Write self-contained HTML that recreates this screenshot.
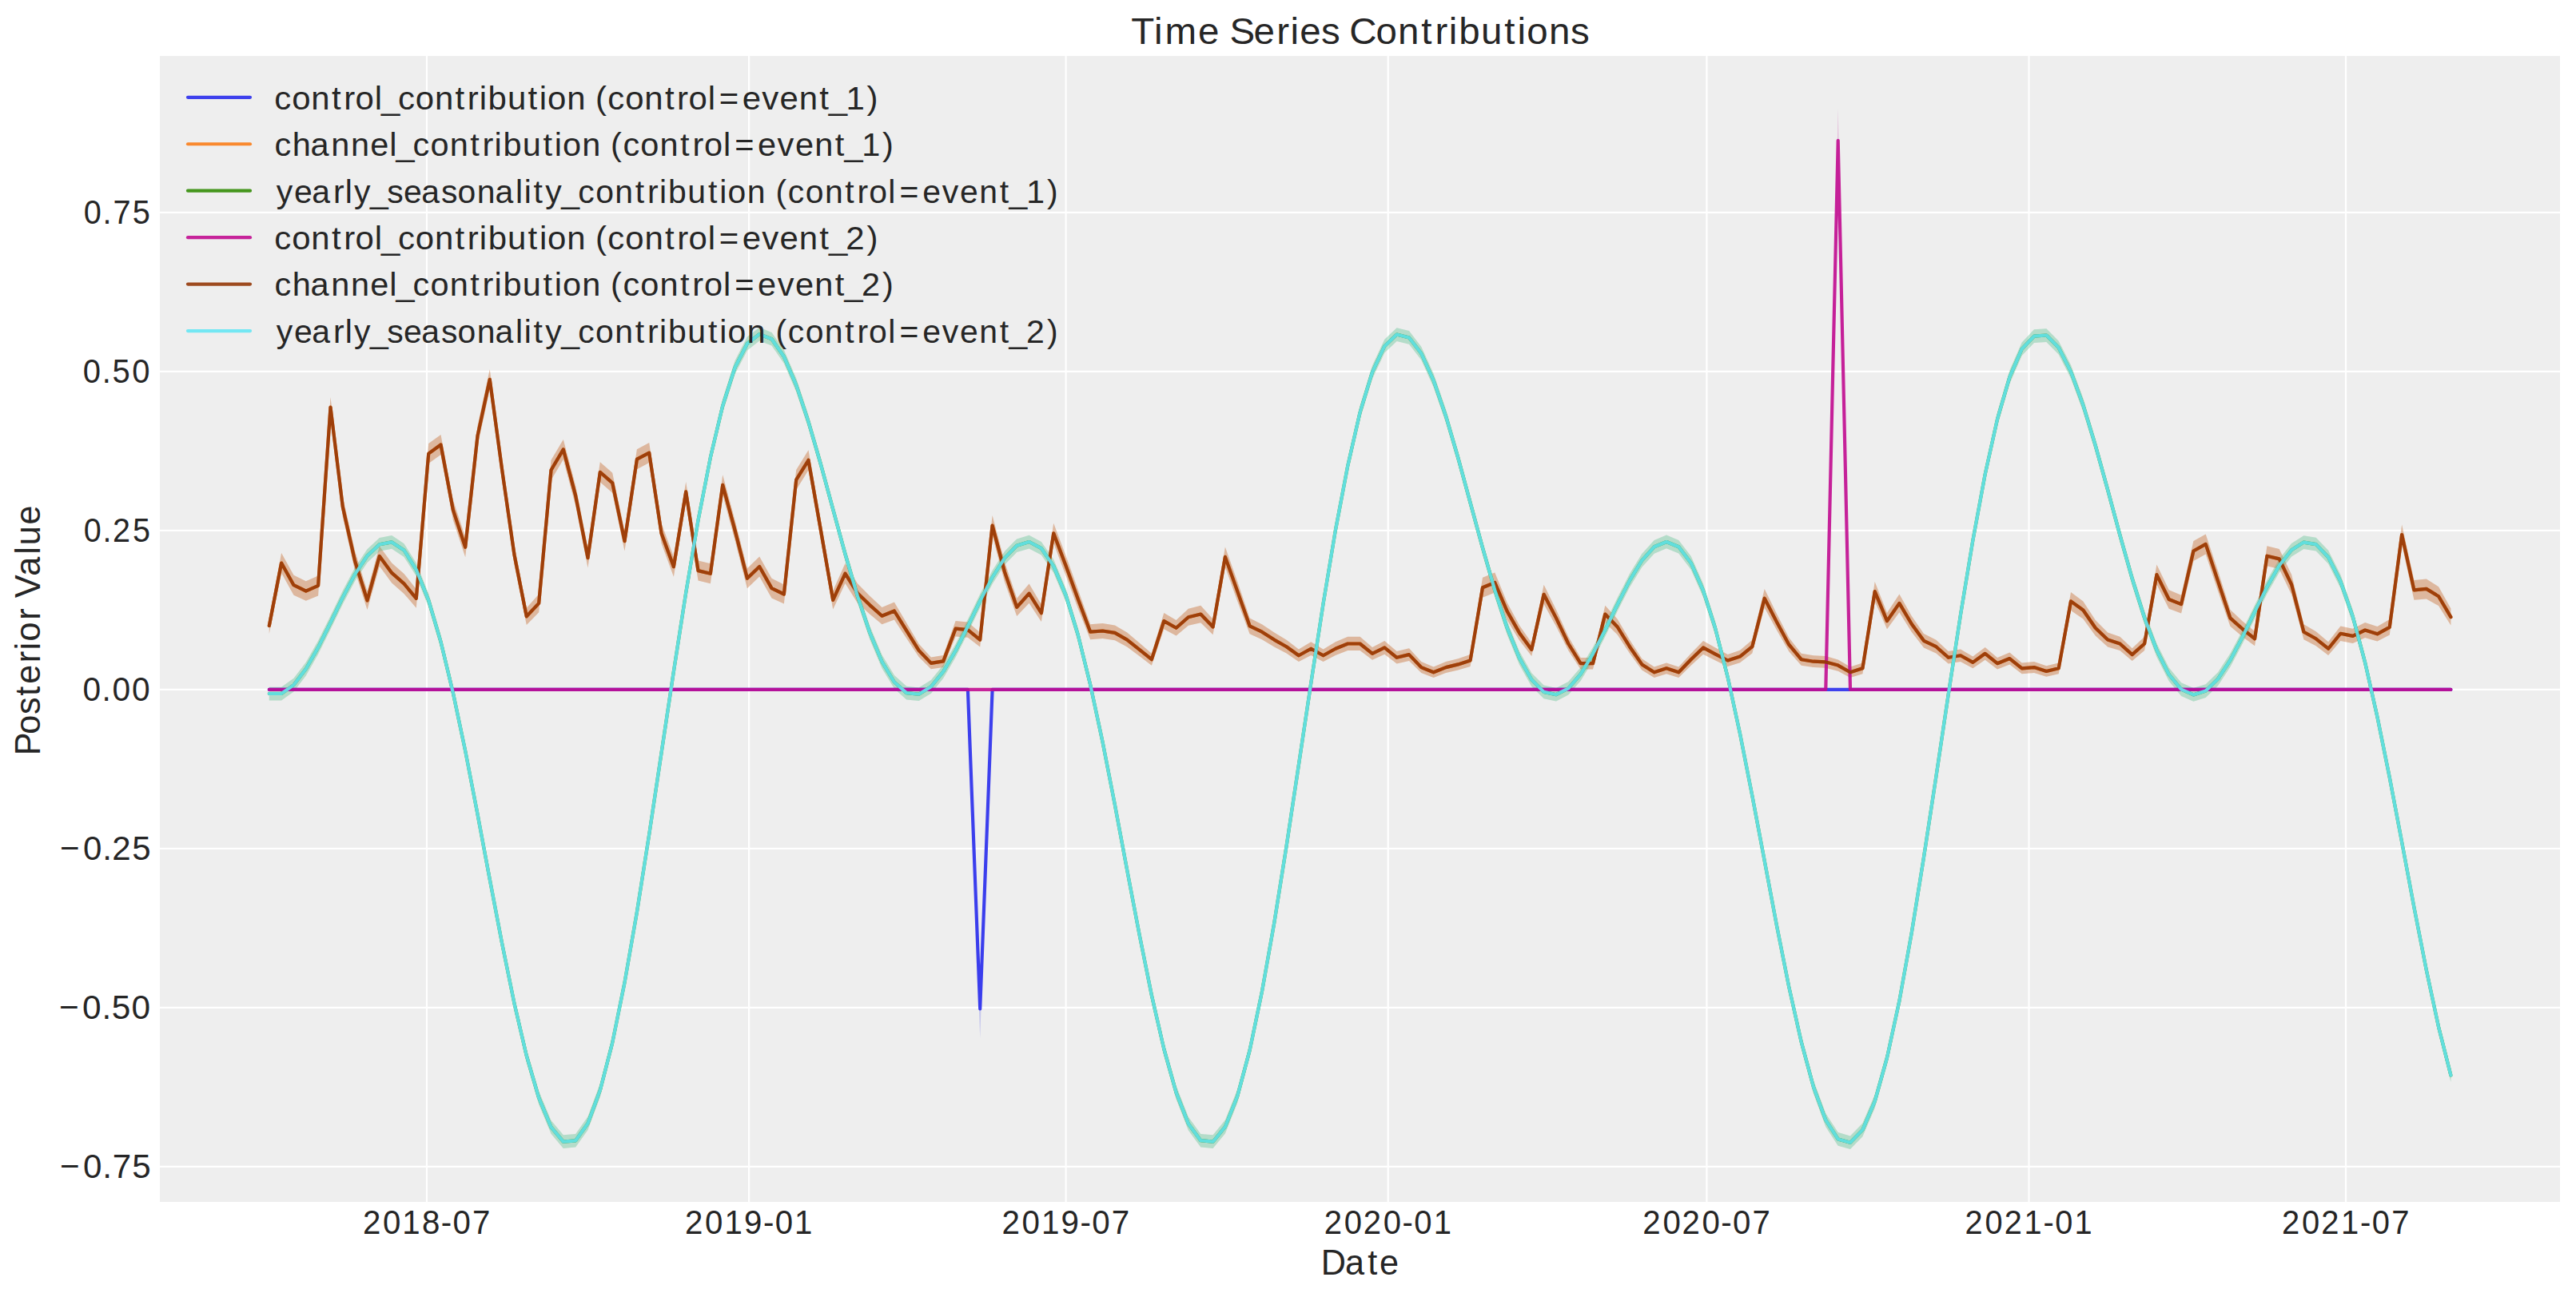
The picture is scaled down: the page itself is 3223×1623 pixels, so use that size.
<!DOCTYPE html><html><head><meta charset="utf-8"><style>html,body{margin:0;padding:0;background:#fff;}svg{display:block;}text{font-family:"Liberation Sans",sans-serif;fill:#262626;font-kerning:none;}</style></head><body>
<svg width="3223" height="1623" viewBox="0 0 3223 1623">
<rect x="0" y="0" width="3223" height="1623" fill="#ffffff"/>
<rect x="200" y="70" width="3003" height="1434" fill="#eeeeee"/>
<path d="M534.00 70V1504M937.09 70V1504M1333.61 70V1504M1736.70 70V1504M2135.41 70V1504M2538.50 70V1504M2935.02 70V1504M200 265.85H3203M200 464.85H3203M200 663.85H3203M200 862.85H3203M200 1061.85H3203M200 1260.85H3203M200 1459.85H3203" stroke="#ffffff" stroke-width="2.2" fill="none"/>
<polygon points="336.8,862.9 352.1,862.9 367.5,862.9 382.8,862.9 398.1,862.9 413.5,862.9 428.8,862.9 444.1,862.9 459.5,862.9 474.8,862.9 490.2,862.9 505.5,862.9 520.8,862.9 536.2,862.9 551.5,862.9 566.8,862.9 582.2,862.9 597.5,862.9 612.8,862.9 628.2,862.9 643.5,862.9 658.8,862.9 674.2,862.9 689.5,862.9 704.8,862.9 720.2,862.9 735.5,862.9 750.8,862.9 766.2,862.9 781.5,862.9 796.9,862.9 812.2,862.9 827.5,862.9 842.9,862.9 858.2,862.9 873.5,862.9 888.9,862.9 904.2,862.9 919.5,862.9 934.9,862.9 950.2,862.9 965.5,862.9 980.9,862.9 996.2,862.9 1011.5,862.9 1026.9,862.9 1042.2,862.9 1057.5,862.9 1072.9,862.9 1088.2,862.9 1103.5,862.9 1118.9,862.9 1134.2,862.9 1149.6,862.9 1164.9,862.9 1180.2,862.9 1195.6,862.9 1210.9,862.9 1226.2,1225.8 1241.6,862.9 1256.9,862.9 1272.2,862.9 1287.6,862.9 1302.9,862.9 1318.2,862.9 1333.6,862.9 1348.9,862.9 1364.2,862.9 1379.6,862.9 1394.9,862.9 1410.2,862.9 1425.6,862.9 1440.9,862.9 1456.3,862.9 1471.6,862.9 1486.9,862.9 1502.3,862.9 1517.6,862.9 1532.9,862.9 1548.3,862.9 1563.6,862.9 1578.9,862.9 1594.3,862.9 1609.6,862.9 1624.9,862.9 1640.3,862.9 1655.6,862.9 1670.9,862.9 1686.3,862.9 1701.6,862.9 1717.0,862.9 1732.3,862.9 1747.6,862.9 1763.0,862.9 1778.3,862.9 1793.6,862.9 1809.0,862.9 1824.3,862.9 1839.6,862.9 1855.0,862.9 1870.3,862.9 1885.6,862.9 1901.0,862.9 1916.3,862.9 1931.6,862.9 1947.0,862.9 1962.3,862.9 1977.6,862.9 1993.0,862.9 2008.3,862.9 2023.7,862.9 2039.0,862.9 2054.3,862.9 2069.7,862.9 2085.0,862.9 2100.3,862.9 2115.7,862.9 2131.0,862.9 2146.3,862.9 2161.7,862.9 2177.0,862.9 2192.3,862.9 2207.7,862.9 2223.0,862.9 2238.3,862.9 2253.7,862.9 2269.0,862.9 2284.3,862.9 2299.7,862.9 2315.0,862.9 2330.4,862.9 2345.7,862.9 2361.0,862.9 2376.4,862.9 2391.7,862.9 2407.0,862.9 2422.4,862.9 2437.7,862.9 2453.0,862.9 2468.4,862.9 2483.7,862.9 2499.0,862.9 2514.4,862.9 2529.7,862.9 2545.0,862.9 2560.4,862.9 2575.7,862.9 2591.0,862.9 2606.4,862.9 2621.7,862.9 2637.1,862.9 2652.4,862.9 2667.7,862.9 2683.1,862.9 2698.4,862.9 2713.7,862.9 2729.1,862.9 2744.4,862.9 2759.7,862.9 2775.1,862.9 2790.4,862.9 2805.7,862.9 2821.1,862.9 2836.4,862.9 2851.7,862.9 2867.1,862.9 2882.4,862.9 2897.7,862.9 2913.1,862.9 2928.4,862.9 2943.8,862.9 2959.1,862.9 2974.4,862.9 2989.8,862.9 3005.1,862.9 3020.4,862.9 3035.8,862.9 3051.1,862.9 3066.4,862.9 3066.4,862.9 3051.1,862.9 3035.8,862.9 3020.4,862.9 3005.1,862.9 2989.8,862.9 2974.4,862.9 2959.1,862.9 2943.8,862.9 2928.4,862.9 2913.1,862.9 2897.7,862.9 2882.4,862.9 2867.1,862.9 2851.7,862.9 2836.4,862.9 2821.1,862.9 2805.7,862.9 2790.4,862.9 2775.1,862.9 2759.7,862.9 2744.4,862.9 2729.1,862.9 2713.7,862.9 2698.4,862.9 2683.1,862.9 2667.7,862.9 2652.4,862.9 2637.1,862.9 2621.7,862.9 2606.4,862.9 2591.0,862.9 2575.7,862.9 2560.4,862.9 2545.0,862.9 2529.7,862.9 2514.4,862.9 2499.0,862.9 2483.7,862.9 2468.4,862.9 2453.0,862.9 2437.7,862.9 2422.4,862.9 2407.0,862.9 2391.7,862.9 2376.4,862.9 2361.0,862.9 2345.7,862.9 2330.4,862.9 2315.0,862.9 2299.7,862.9 2284.3,862.9 2269.0,862.9 2253.7,862.9 2238.3,862.9 2223.0,862.9 2207.7,862.9 2192.3,862.9 2177.0,862.9 2161.7,862.9 2146.3,862.9 2131.0,862.9 2115.7,862.9 2100.3,862.9 2085.0,862.9 2069.7,862.9 2054.3,862.9 2039.0,862.9 2023.7,862.9 2008.3,862.9 1993.0,862.9 1977.6,862.9 1962.3,862.9 1947.0,862.9 1931.6,862.9 1916.3,862.9 1901.0,862.9 1885.6,862.9 1870.3,862.9 1855.0,862.9 1839.6,862.9 1824.3,862.9 1809.0,862.9 1793.6,862.9 1778.3,862.9 1763.0,862.9 1747.6,862.9 1732.3,862.9 1717.0,862.9 1701.6,862.9 1686.3,862.9 1670.9,862.9 1655.6,862.9 1640.3,862.9 1624.9,862.9 1609.6,862.9 1594.3,862.9 1578.9,862.9 1563.6,862.9 1548.3,862.9 1532.9,862.9 1517.6,862.9 1502.3,862.9 1486.9,862.9 1471.6,862.9 1456.3,862.9 1440.9,862.9 1425.6,862.9 1410.2,862.9 1394.9,862.9 1379.6,862.9 1364.2,862.9 1348.9,862.9 1333.6,862.9 1318.2,862.9 1302.9,862.9 1287.6,862.9 1272.2,862.9 1256.9,862.9 1241.6,862.9 1226.2,1299.1 1210.9,862.9 1195.6,862.9 1180.2,862.9 1164.9,862.9 1149.6,862.9 1134.2,862.9 1118.9,862.9 1103.5,862.9 1088.2,862.9 1072.9,862.9 1057.5,862.9 1042.2,862.9 1026.9,862.9 1011.5,862.9 996.2,862.9 980.9,862.9 965.5,862.9 950.2,862.9 934.9,862.9 919.5,862.9 904.2,862.9 888.9,862.9 873.5,862.9 858.2,862.9 842.9,862.9 827.5,862.9 812.2,862.9 796.9,862.9 781.5,862.9 766.2,862.9 750.8,862.9 735.5,862.9 720.2,862.9 704.8,862.9 689.5,862.9 674.2,862.9 658.8,862.9 643.5,862.9 628.2,862.9 612.8,862.9 597.5,862.9 582.2,862.9 566.8,862.9 551.5,862.9 536.2,862.9 520.8,862.9 505.5,862.9 490.2,862.9 474.8,862.9 459.5,862.9 444.1,862.9 428.8,862.9 413.5,862.9 398.1,862.9 382.8,862.9 367.5,862.9 352.1,862.9 336.8,862.9" fill="#2a2eec" fill-opacity="0.2" stroke="none"/>
<polygon points="336.8,773.1 352.1,692.0 367.5,719.7 382.8,727.3 398.1,720.4 413.5,497.1 428.8,621.7 444.1,689.6 459.5,739.8 474.8,683.4 490.2,704.4 505.5,717.9 520.8,737.2 536.2,555.1 551.5,544.0 566.8,625.4 582.2,672.3 597.5,532.9 612.8,462.3 628.2,575.8 643.5,681.9 658.8,760.8 674.2,743.4 689.5,575.8 704.8,549.9 720.2,607.9 735.5,685.6 750.8,578.3 766.2,591.8 781.5,664.6 796.9,562.2 812.2,554.1 827.5,654.7 842.9,696.7 858.2,602.9 873.5,701.6 888.9,705.3 904.2,594.3 919.5,650.9 934.9,711.3 950.2,696.5 965.5,723.7 980.9,731.5 996.2,587.9 1011.5,563.3 1026.9,650.9 1042.2,739.3 1057.5,705.1 1072.9,730.2 1088.2,745.8 1103.5,760.1 1118.9,753.6 1134.2,779.6 1149.6,805.7 1164.9,822.6 1180.2,820.0 1195.6,777.0 1210.9,778.6 1226.2,791.6 1241.6,645.0 1256.9,702.9 1272.2,748.7 1287.6,730.5 1302.9,756.5 1318.2,654.8 1333.6,695.5 1348.9,738.3 1364.2,781.2 1379.6,779.9 1394.9,782.5 1410.2,791.6 1425.6,804.6 1440.9,817.7 1456.3,766.9 1471.6,776.0 1486.9,761.7 1502.3,757.8 1517.6,774.7 1532.9,684.4 1548.3,727.9 1563.6,773.4 1578.9,781.2 1594.3,791.6 1609.6,800.7 1624.9,812.5 1640.3,803.3 1655.6,812.5 1670.9,803.3 1686.3,796.8 1701.6,796.8 1717.0,809.9 1732.3,802.0 1747.6,815.1 1763.0,811.2 1778.3,828.1 1793.6,834.6 1809.0,828.1 1824.3,824.2 1839.6,819.0 1855.0,722.7 1870.3,716.5 1885.6,753.9 1901.0,782.5 1916.3,804.6 1931.6,731.8 1947.0,763.0 1962.3,796.8 1977.6,822.9 1993.0,822.9 2008.3,757.8 2023.7,774.7 2039.0,800.7 2054.3,824.2 2069.7,834.6 2085.0,829.4 2100.3,834.6 2115.7,817.7 2131.0,802.0 2146.3,810.6 2161.7,819.0 2177.0,813.8 2192.3,800.7 2207.7,737.0 2223.0,768.2 2238.3,798.1 2253.7,817.7 2269.0,820.3 2284.3,821.0 2299.7,825.5 2315.0,834.6 2330.4,829.4 2345.7,727.9 2361.0,766.9 2376.4,743.5 2391.7,770.8 2407.0,792.9 2422.4,800.7 2437.7,815.1 2453.0,812.5 2468.4,821.6 2483.7,809.9 2499.0,822.9 2514.4,816.4 2529.7,829.4 2545.0,828.1 2560.4,833.3 2575.7,829.4 2591.0,740.9 2606.4,752.6 2621.7,776.0 2637.1,791.6 2652.4,796.8 2667.7,811.2 2683.1,796.8 2698.4,706.6 2713.7,738.3 2729.1,744.8 2744.4,677.0 2759.7,668.4 2775.1,714.8 2790.4,763.0 2805.7,777.3 2821.1,790.3 2836.4,683.2 2851.7,686.9 2867.1,719.0 2882.4,781.2 2897.7,790.3 2913.1,803.3 2928.4,783.4 2943.8,786.7 2959.1,778.9 2974.4,783.9 2989.8,775.0 3005.1,656.5 3020.4,726.0 3035.8,724.5 3051.1,734.3 3066.4,761.6 3066.4,782.6 3051.1,758.1 3035.8,749.4 3020.4,750.7 3005.1,681.5 2989.8,794.6 2974.4,802.6 2959.1,798.1 2943.8,805.1 2928.4,802.1 2913.1,820.0 2897.7,808.3 2882.4,800.2 2867.1,744.0 2851.7,711.9 2836.4,708.2 2821.1,808.3 2805.7,796.7 2790.4,783.8 2775.1,739.8 2759.7,693.4 2744.4,702.0 2729.1,767.5 2713.7,761.7 2698.4,731.6 2683.1,814.1 2667.7,827.0 2652.4,814.1 2637.1,809.5 2621.7,795.5 2606.4,774.5 2591.0,764.0 2575.7,843.3 2560.4,846.8 2545.0,842.1 2529.7,843.3 2514.4,831.6 2499.0,837.5 2483.7,825.8 2468.4,836.3 2453.0,828.1 2437.7,830.5 2422.4,817.6 2407.0,810.6 2391.7,790.8 2376.4,766.3 2361.0,787.3 2345.7,752.4 2330.4,843.3 2315.0,848.0 2299.7,839.8 2284.3,835.8 2269.0,835.1 2253.7,832.8 2238.3,815.3 2223.0,788.5 2207.7,760.5 2192.3,817.6 2177.0,829.3 2161.7,834.0 2146.3,826.5 2131.0,818.8 2115.7,832.8 2100.3,848.0 2085.0,843.3 2069.7,848.0 2054.3,838.6 2039.0,817.6 2023.7,794.3 2008.3,779.2 1993.0,837.5 1977.6,837.5 1962.3,814.1 1947.0,783.8 1931.6,755.9 1916.3,821.1 1901.0,801.3 1885.6,775.7 1870.3,741.5 1855.0,747.7 1839.6,834.0 1824.3,838.6 1809.0,842.1 1793.6,848.0 1778.3,842.1 1763.0,827.0 1747.6,830.5 1732.3,818.8 1717.0,825.8 1701.6,814.1 1686.3,814.1 1670.9,820.0 1655.6,828.1 1640.3,820.0 1624.9,828.1 1609.6,817.6 1594.3,809.5 1578.9,800.2 1563.6,793.2 1548.3,752.4 1532.9,709.4 1517.6,794.3 1502.3,779.2 1486.9,782.7 1471.6,795.5 1456.3,787.3 1440.9,832.8 1425.6,821.1 1410.2,809.5 1394.9,801.3 1379.6,799.0 1364.2,800.2 1348.9,761.7 1333.6,720.5 1318.2,679.8 1302.9,778.0 1287.6,754.7 1272.2,771.0 1256.9,727.9 1241.6,670.0 1226.2,809.5 1210.9,797.8 1195.6,796.4 1180.2,834.9 1164.9,837.2 1149.6,822.1 1134.2,798.7 1118.9,775.4 1103.5,781.3 1088.2,768.4 1072.9,754.4 1057.5,730.1 1042.2,762.6 1026.9,675.9 1011.5,588.3 996.2,612.9 980.9,755.6 965.5,748.6 950.2,721.5 934.9,736.3 919.5,675.9 904.2,619.3 888.9,730.3 873.5,726.6 858.2,627.9 842.9,721.7 827.5,679.7 812.2,579.1 796.9,587.2 781.5,689.6 766.2,616.8 750.8,603.3 735.5,710.6 720.2,632.9 704.8,574.9 689.5,600.8 674.2,766.3 658.8,781.9 643.5,706.9 628.2,600.8 612.8,487.3 597.5,557.9 582.2,697.3 566.8,650.4 551.5,569.0 536.2,580.1 520.8,760.7 505.5,742.9 490.2,729.4 474.8,708.4 459.5,763.0 444.1,714.6 428.8,646.7 413.5,522.1 398.1,745.4 382.8,751.8 367.5,744.7 352.1,717.0 336.8,792.9" fill="#fa7c17" fill-opacity="0.2" stroke="none"/>
<polygon points="336.8,859.7 352.1,859.7 367.5,848.8 382.8,828.7 398.1,801.7 413.5,770.8 428.8,739.2 444.1,710.3 459.5,687.2 474.8,673.0 490.2,670.0 505.5,680.2 520.8,704.4 536.2,742.8 551.5,794.7 566.8,858.3 582.2,931.3 597.5,1010.4 612.8,1092.2 628.2,1172.5 643.5,1247.4 658.8,1312.9 674.2,1365.4 689.5,1402.0 704.8,1420.3 720.2,1418.9 735.5,1397.3 750.8,1356.0 766.2,1296.5 781.5,1221.1 796.9,1133.0 812.2,1035.9 827.5,934.1 842.9,831.7 858.2,733.3 873.5,642.8 888.9,563.9 904.2,499.5 919.5,451.6 934.9,421.6 950.2,409.7 965.5,415.9 980.9,437.9 996.2,473.4 1011.5,519.4 1026.9,572.5 1042.2,628.9 1057.5,685.1 1072.9,737.5 1088.2,783.2 1103.5,819.6 1118.9,845.1 1134.2,858.7 1149.6,860.4 1164.9,851.0 1180.2,832.0 1195.6,805.9 1210.9,775.3 1226.2,743.6 1241.6,714.1 1256.9,690.0 1272.2,674.4 1287.6,669.7 1302.9,677.9 1318.2,700.1 1333.6,736.5 1348.9,786.5 1364.2,848.6 1379.6,920.4 1394.9,998.9 1410.2,1080.5 1425.6,1161.2 1440.9,1237.1 1456.3,1304.2 1471.6,1358.8 1486.9,1397.8 1502.3,1418.9 1517.6,1420.3 1532.9,1401.6 1548.3,1363.1 1563.6,1306.1 1578.9,1232.8 1594.3,1146.3 1609.6,1050.2 1624.9,948.8 1640.3,846.2 1655.6,747.0 1670.9,655.1 1686.3,574.4 1701.6,507.7 1717.0,457.4 1732.3,424.8 1747.6,410.2 1763.0,414.0 1778.3,433.9 1793.6,467.6 1809.0,512.3 1824.3,564.6 1839.6,620.8 1855.0,677.2 1870.3,730.4 1885.6,777.2 1901.0,815.0 1916.3,842.2 1931.6,857.5 1947.0,860.9 1962.3,852.9 1977.6,835.2 1993.0,809.9 2008.3,779.9 2023.7,748.1 2039.0,718.1 2054.3,693.0 2069.7,676.0 2085.0,669.6 2100.3,675.9 2115.7,696.0 2131.0,730.4 2146.3,778.6 2161.7,839.1 2177.0,909.7 2192.3,987.4 2207.7,1068.8 2223.0,1149.9 2238.3,1226.7 2253.7,1295.3 2269.0,1351.9 2284.3,1393.3 2299.7,1417.0 2315.0,1421.4 2330.4,1405.5 2345.7,1369.8 2361.0,1315.3 2376.4,1244.1 2391.7,1159.3 2407.0,1064.4 2422.4,963.4 2437.7,860.8 2453.0,760.8 2468.4,667.7 2483.7,585.1 2499.0,516.3 2514.4,463.5 2529.7,428.4 2545.0,412.3 2560.4,411.2 2575.7,426.7 2591.0,456.8 2606.4,498.6 2621.7,549.1 2637.1,604.5 2652.4,661.2 2667.7,715.7 2683.1,764.6 2698.4,805.3 2713.7,835.6 2729.1,854.3 2744.4,861.1 2759.7,856.3 2775.1,841.2 2790.4,817.8 2805.7,788.8 2821.1,757.2 2836.4,726.3 2851.7,699.5 2867.1,679.9 2882.4,670.2 2897.7,672.7 2913.1,688.8 2928.4,719.2 2943.8,763.5 2959.1,820.6 2974.4,888.6 2989.8,964.6 3005.1,1045.4 3020.4,1127.0 3035.8,1205.5 3051.1,1276.8 3066.4,1337.2 3066.4,1353.9 3051.1,1293.5 3035.8,1222.2 3020.4,1143.7 3005.1,1062.1 2989.8,981.4 2974.4,905.3 2959.1,837.4 2943.8,780.2 2928.4,735.9 2913.1,705.5 2897.7,689.4 2882.4,686.9 2867.1,696.6 2851.7,716.2 2836.4,743.0 2821.1,773.9 2805.7,805.5 2790.4,834.5 2775.1,857.9 2759.7,873.0 2744.4,877.8 2729.1,871.1 2713.7,852.3 2698.4,822.0 2683.1,781.3 2667.7,732.4 2652.4,678.0 2637.1,621.2 2621.7,565.8 2606.4,515.4 2591.0,473.5 2575.7,443.4 2560.4,427.9 2545.0,429.0 2529.7,445.1 2514.4,480.2 2499.0,533.0 2483.7,601.8 2468.4,684.4 2453.0,777.5 2437.7,877.5 2422.4,980.1 2407.0,1081.1 2391.7,1176.0 2376.4,1260.8 2361.0,1332.0 2345.7,1386.5 2330.4,1422.3 2315.0,1438.1 2299.7,1433.8 2284.3,1410.0 2269.0,1368.6 2253.7,1312.0 2238.3,1243.5 2223.0,1166.6 2207.7,1085.5 2192.3,1004.1 2177.0,926.4 2161.7,855.8 2146.3,795.3 2131.0,747.2 2115.7,712.7 2100.3,692.6 2085.0,686.3 2069.7,692.7 2054.3,709.7 2039.0,734.8 2023.7,764.8 2008.3,796.6 1993.0,826.7 1977.6,851.9 1962.3,869.6 1947.0,877.6 1931.6,874.2 1916.3,858.9 1901.0,831.8 1885.6,793.9 1870.3,747.1 1855.0,693.9 1839.6,637.5 1824.3,581.3 1809.0,529.0 1793.6,484.4 1778.3,450.6 1763.0,430.7 1747.6,426.9 1732.3,441.5 1717.0,474.1 1701.6,524.4 1686.3,591.1 1670.9,671.8 1655.6,763.7 1640.3,862.9 1624.9,965.5 1609.6,1066.9 1594.3,1163.0 1578.9,1249.5 1563.6,1322.8 1548.3,1379.8 1532.9,1418.4 1517.6,1437.1 1502.3,1435.6 1486.9,1414.6 1471.6,1375.5 1456.3,1320.9 1440.9,1253.9 1425.6,1178.0 1410.2,1097.2 1394.9,1015.6 1379.6,937.1 1364.2,865.3 1348.9,803.2 1333.6,753.2 1318.2,716.8 1302.9,694.6 1287.6,686.4 1272.2,691.1 1256.9,706.7 1241.6,730.8 1226.2,760.4 1210.9,792.1 1195.6,822.6 1180.2,848.7 1164.9,867.7 1149.6,877.1 1134.2,875.4 1118.9,861.8 1103.5,836.3 1088.2,799.9 1072.9,754.2 1057.5,701.8 1042.2,645.6 1026.9,589.2 1011.5,536.1 996.2,490.2 980.9,454.7 965.5,432.6 950.2,426.4 934.9,438.4 919.5,468.3 904.2,516.2 888.9,580.6 873.5,659.6 858.2,750.0 842.9,848.5 827.5,950.8 812.2,1052.7 796.9,1149.7 781.5,1237.8 766.2,1313.2 750.8,1372.7 735.5,1414.0 720.2,1435.6 704.8,1437.0 689.5,1418.7 674.2,1382.1 658.8,1329.6 643.5,1264.1 628.2,1189.2 612.8,1108.9 597.5,1027.2 582.2,948.0 566.8,875.0 551.5,811.4 536.2,759.6 520.8,721.1 505.5,696.9 490.2,686.8 474.8,689.7 459.5,703.9 444.1,727.0 428.8,755.9 413.5,787.5 398.1,818.4 382.8,845.4 367.5,865.5 352.1,876.4 336.8,876.4" fill="#328c06" fill-opacity="0.2" stroke="none"/>
<polygon points="336.8,862.9 352.1,862.9 367.5,862.9 382.8,862.9 398.1,862.9 413.5,862.9 428.8,862.9 444.1,862.9 459.5,862.9 474.8,862.9 490.2,862.9 505.5,862.9 520.8,862.9 536.2,862.9 551.5,862.9 566.8,862.9 582.2,862.9 597.5,862.9 612.8,862.9 628.2,862.9 643.5,862.9 658.8,862.9 674.2,862.9 689.5,862.9 704.8,862.9 720.2,862.9 735.5,862.9 750.8,862.9 766.2,862.9 781.5,862.9 796.9,862.9 812.2,862.9 827.5,862.9 842.9,862.9 858.2,862.9 873.5,862.9 888.9,862.9 904.2,862.9 919.5,862.9 934.9,862.9 950.2,862.9 965.5,862.9 980.9,862.9 996.2,862.9 1011.5,862.9 1026.9,862.9 1042.2,862.9 1057.5,862.9 1072.9,862.9 1088.2,862.9 1103.5,862.9 1118.9,862.9 1134.2,862.9 1149.6,862.9 1164.9,862.9 1180.2,862.9 1195.6,862.9 1210.9,862.9 1226.2,862.9 1241.6,862.9 1256.9,862.9 1272.2,862.9 1287.6,862.9 1302.9,862.9 1318.2,862.9 1333.6,862.9 1348.9,862.9 1364.2,862.9 1379.6,862.9 1394.9,862.9 1410.2,862.9 1425.6,862.9 1440.9,862.9 1456.3,862.9 1471.6,862.9 1486.9,862.9 1502.3,862.9 1517.6,862.9 1532.9,862.9 1548.3,862.9 1563.6,862.9 1578.9,862.9 1594.3,862.9 1609.6,862.9 1624.9,862.9 1640.3,862.9 1655.6,862.9 1670.9,862.9 1686.3,862.9 1701.6,862.9 1717.0,862.9 1732.3,862.9 1747.6,862.9 1763.0,862.9 1778.3,862.9 1793.6,862.9 1809.0,862.9 1824.3,862.9 1839.6,862.9 1855.0,862.9 1870.3,862.9 1885.6,862.9 1901.0,862.9 1916.3,862.9 1931.6,862.9 1947.0,862.9 1962.3,862.9 1977.6,862.9 1993.0,862.9 2008.3,862.9 2023.7,862.9 2039.0,862.9 2054.3,862.9 2069.7,862.9 2085.0,862.9 2100.3,862.9 2115.7,862.9 2131.0,862.9 2146.3,862.9 2161.7,862.9 2177.0,862.9 2192.3,862.9 2207.7,862.9 2223.0,862.9 2238.3,862.9 2253.7,862.9 2269.0,862.9 2284.3,862.9 2299.7,136.1 2315.0,862.9 2330.4,862.9 2345.7,862.9 2361.0,862.9 2376.4,862.9 2391.7,862.9 2407.0,862.9 2422.4,862.9 2437.7,862.9 2453.0,862.9 2468.4,862.9 2483.7,862.9 2499.0,862.9 2514.4,862.9 2529.7,862.9 2545.0,862.9 2560.4,862.9 2575.7,862.9 2591.0,862.9 2606.4,862.9 2621.7,862.9 2637.1,862.9 2652.4,862.9 2667.7,862.9 2683.1,862.9 2698.4,862.9 2713.7,862.9 2729.1,862.9 2744.4,862.9 2759.7,862.9 2775.1,862.9 2790.4,862.9 2805.7,862.9 2821.1,862.9 2836.4,862.9 2851.7,862.9 2867.1,862.9 2882.4,862.9 2897.7,862.9 2913.1,862.9 2928.4,862.9 2943.8,862.9 2959.1,862.9 2974.4,862.9 2989.8,862.9 3005.1,862.9 3020.4,862.9 3035.8,862.9 3051.1,862.9 3066.4,862.9 3066.4,862.9 3051.1,862.9 3035.8,862.9 3020.4,862.9 3005.1,862.9 2989.8,862.9 2974.4,862.9 2959.1,862.9 2943.8,862.9 2928.4,862.9 2913.1,862.9 2897.7,862.9 2882.4,862.9 2867.1,862.9 2851.7,862.9 2836.4,862.9 2821.1,862.9 2805.7,862.9 2790.4,862.9 2775.1,862.9 2759.7,862.9 2744.4,862.9 2729.1,862.9 2713.7,862.9 2698.4,862.9 2683.1,862.9 2667.7,862.9 2652.4,862.9 2637.1,862.9 2621.7,862.9 2606.4,862.9 2591.0,862.9 2575.7,862.9 2560.4,862.9 2545.0,862.9 2529.7,862.9 2514.4,862.9 2499.0,862.9 2483.7,862.9 2468.4,862.9 2453.0,862.9 2437.7,862.9 2422.4,862.9 2407.0,862.9 2391.7,862.9 2376.4,862.9 2361.0,862.9 2345.7,862.9 2330.4,862.9 2315.0,862.9 2299.7,215.7 2284.3,862.9 2269.0,862.9 2253.7,862.9 2238.3,862.9 2223.0,862.9 2207.7,862.9 2192.3,862.9 2177.0,862.9 2161.7,862.9 2146.3,862.9 2131.0,862.9 2115.7,862.9 2100.3,862.9 2085.0,862.9 2069.7,862.9 2054.3,862.9 2039.0,862.9 2023.7,862.9 2008.3,862.9 1993.0,862.9 1977.6,862.9 1962.3,862.9 1947.0,862.9 1931.6,862.9 1916.3,862.9 1901.0,862.9 1885.6,862.9 1870.3,862.9 1855.0,862.9 1839.6,862.9 1824.3,862.9 1809.0,862.9 1793.6,862.9 1778.3,862.9 1763.0,862.9 1747.6,862.9 1732.3,862.9 1717.0,862.9 1701.6,862.9 1686.3,862.9 1670.9,862.9 1655.6,862.9 1640.3,862.9 1624.9,862.9 1609.6,862.9 1594.3,862.9 1578.9,862.9 1563.6,862.9 1548.3,862.9 1532.9,862.9 1517.6,862.9 1502.3,862.9 1486.9,862.9 1471.6,862.9 1456.3,862.9 1440.9,862.9 1425.6,862.9 1410.2,862.9 1394.9,862.9 1379.6,862.9 1364.2,862.9 1348.9,862.9 1333.6,862.9 1318.2,862.9 1302.9,862.9 1287.6,862.9 1272.2,862.9 1256.9,862.9 1241.6,862.9 1226.2,862.9 1210.9,862.9 1195.6,862.9 1180.2,862.9 1164.9,862.9 1149.6,862.9 1134.2,862.9 1118.9,862.9 1103.5,862.9 1088.2,862.9 1072.9,862.9 1057.5,862.9 1042.2,862.9 1026.9,862.9 1011.5,862.9 996.2,862.9 980.9,862.9 965.5,862.9 950.2,862.9 934.9,862.9 919.5,862.9 904.2,862.9 888.9,862.9 873.5,862.9 858.2,862.9 842.9,862.9 827.5,862.9 812.2,862.9 796.9,862.9 781.5,862.9 766.2,862.9 750.8,862.9 735.5,862.9 720.2,862.9 704.8,862.9 689.5,862.9 674.2,862.9 658.8,862.9 643.5,862.9 628.2,862.9 612.8,862.9 597.5,862.9 582.2,862.9 566.8,862.9 551.5,862.9 536.2,862.9 520.8,862.9 505.5,862.9 490.2,862.9 474.8,862.9 459.5,862.9 444.1,862.9 428.8,862.9 413.5,862.9 398.1,862.9 382.8,862.9 367.5,862.9 352.1,862.9 336.8,862.9" fill="#c10c90" fill-opacity="0.2" stroke="none"/>
<polygon points="336.8,773.1 352.1,692.0 367.5,719.7 382.8,727.3 398.1,720.4 413.5,497.1 428.8,621.7 444.1,689.6 459.5,739.8 474.8,683.4 490.2,704.4 505.5,717.9 520.8,737.2 536.2,555.1 551.5,544.0 566.8,625.4 582.2,672.3 597.5,532.9 612.8,462.3 628.2,575.8 643.5,681.9 658.8,760.8 674.2,743.4 689.5,575.8 704.8,549.9 720.2,607.9 735.5,685.6 750.8,578.3 766.2,591.8 781.5,664.6 796.9,562.2 812.2,554.1 827.5,654.7 842.9,696.7 858.2,602.9 873.5,701.6 888.9,705.3 904.2,594.3 919.5,650.9 934.9,711.3 950.2,696.5 965.5,723.7 980.9,731.5 996.2,587.9 1011.5,563.3 1026.9,650.9 1042.2,739.3 1057.5,705.1 1072.9,730.2 1088.2,745.8 1103.5,760.1 1118.9,753.6 1134.2,779.6 1149.6,805.7 1164.9,822.6 1180.2,820.0 1195.6,777.0 1210.9,778.6 1226.2,791.6 1241.6,645.0 1256.9,702.9 1272.2,748.7 1287.6,730.5 1302.9,756.5 1318.2,654.8 1333.6,695.5 1348.9,738.3 1364.2,781.2 1379.6,779.9 1394.9,782.5 1410.2,791.6 1425.6,804.6 1440.9,817.7 1456.3,766.9 1471.6,776.0 1486.9,761.7 1502.3,757.8 1517.6,774.7 1532.9,684.4 1548.3,727.9 1563.6,773.4 1578.9,781.2 1594.3,791.6 1609.6,800.7 1624.9,812.5 1640.3,803.3 1655.6,812.5 1670.9,803.3 1686.3,796.8 1701.6,796.8 1717.0,809.9 1732.3,802.0 1747.6,815.1 1763.0,811.2 1778.3,828.1 1793.6,834.6 1809.0,828.1 1824.3,824.2 1839.6,819.0 1855.0,722.7 1870.3,716.5 1885.6,753.9 1901.0,782.5 1916.3,804.6 1931.6,731.8 1947.0,763.0 1962.3,796.8 1977.6,822.9 1993.0,822.9 2008.3,757.8 2023.7,774.7 2039.0,800.7 2054.3,824.2 2069.7,834.6 2085.0,829.4 2100.3,834.6 2115.7,817.7 2131.0,802.0 2146.3,810.6 2161.7,819.0 2177.0,813.8 2192.3,800.7 2207.7,737.0 2223.0,768.2 2238.3,798.1 2253.7,817.7 2269.0,820.3 2284.3,821.0 2299.7,825.5 2315.0,834.6 2330.4,829.4 2345.7,727.9 2361.0,766.9 2376.4,743.5 2391.7,770.8 2407.0,792.9 2422.4,800.7 2437.7,815.1 2453.0,812.5 2468.4,821.6 2483.7,809.9 2499.0,822.9 2514.4,816.4 2529.7,829.4 2545.0,828.1 2560.4,833.3 2575.7,829.4 2591.0,740.9 2606.4,752.6 2621.7,776.0 2637.1,791.6 2652.4,796.8 2667.7,811.2 2683.1,796.8 2698.4,706.6 2713.7,738.3 2729.1,744.8 2744.4,677.0 2759.7,668.4 2775.1,714.8 2790.4,763.0 2805.7,777.3 2821.1,790.3 2836.4,683.2 2851.7,686.9 2867.1,719.0 2882.4,781.2 2897.7,790.3 2913.1,803.3 2928.4,783.4 2943.8,786.7 2959.1,778.9 2974.4,783.9 2989.8,775.0 3005.1,656.5 3020.4,726.0 3035.8,724.5 3051.1,734.3 3066.4,761.6 3066.4,782.6 3051.1,758.1 3035.8,749.4 3020.4,750.7 3005.1,681.5 2989.8,794.6 2974.4,802.6 2959.1,798.1 2943.8,805.1 2928.4,802.1 2913.1,820.0 2897.7,808.3 2882.4,800.2 2867.1,744.0 2851.7,711.9 2836.4,708.2 2821.1,808.3 2805.7,796.7 2790.4,783.8 2775.1,739.8 2759.7,693.4 2744.4,702.0 2729.1,767.5 2713.7,761.7 2698.4,731.6 2683.1,814.1 2667.7,827.0 2652.4,814.1 2637.1,809.5 2621.7,795.5 2606.4,774.5 2591.0,764.0 2575.7,843.3 2560.4,846.8 2545.0,842.1 2529.7,843.3 2514.4,831.6 2499.0,837.5 2483.7,825.8 2468.4,836.3 2453.0,828.1 2437.7,830.5 2422.4,817.6 2407.0,810.6 2391.7,790.8 2376.4,766.3 2361.0,787.3 2345.7,752.4 2330.4,843.3 2315.0,848.0 2299.7,839.8 2284.3,835.8 2269.0,835.1 2253.7,832.8 2238.3,815.3 2223.0,788.5 2207.7,760.5 2192.3,817.6 2177.0,829.3 2161.7,834.0 2146.3,826.5 2131.0,818.8 2115.7,832.8 2100.3,848.0 2085.0,843.3 2069.7,848.0 2054.3,838.6 2039.0,817.6 2023.7,794.3 2008.3,779.2 1993.0,837.5 1977.6,837.5 1962.3,814.1 1947.0,783.8 1931.6,755.9 1916.3,821.1 1901.0,801.3 1885.6,775.7 1870.3,741.5 1855.0,747.7 1839.6,834.0 1824.3,838.6 1809.0,842.1 1793.6,848.0 1778.3,842.1 1763.0,827.0 1747.6,830.5 1732.3,818.8 1717.0,825.8 1701.6,814.1 1686.3,814.1 1670.9,820.0 1655.6,828.1 1640.3,820.0 1624.9,828.1 1609.6,817.6 1594.3,809.5 1578.9,800.2 1563.6,793.2 1548.3,752.4 1532.9,709.4 1517.6,794.3 1502.3,779.2 1486.9,782.7 1471.6,795.5 1456.3,787.3 1440.9,832.8 1425.6,821.1 1410.2,809.5 1394.9,801.3 1379.6,799.0 1364.2,800.2 1348.9,761.7 1333.6,720.5 1318.2,679.8 1302.9,778.0 1287.6,754.7 1272.2,771.0 1256.9,727.9 1241.6,670.0 1226.2,809.5 1210.9,797.8 1195.6,796.4 1180.2,834.9 1164.9,837.2 1149.6,822.1 1134.2,798.7 1118.9,775.4 1103.5,781.3 1088.2,768.4 1072.9,754.4 1057.5,730.1 1042.2,762.6 1026.9,675.9 1011.5,588.3 996.2,612.9 980.9,755.6 965.5,748.6 950.2,721.5 934.9,736.3 919.5,675.9 904.2,619.3 888.9,730.3 873.5,726.6 858.2,627.9 842.9,721.7 827.5,679.7 812.2,579.1 796.9,587.2 781.5,689.6 766.2,616.8 750.8,603.3 735.5,710.6 720.2,632.9 704.8,574.9 689.5,600.8 674.2,766.3 658.8,781.9 643.5,706.9 628.2,600.8 612.8,487.3 597.5,557.9 582.2,697.3 566.8,650.4 551.5,569.0 536.2,580.1 520.8,760.7 505.5,742.9 490.2,729.4 474.8,708.4 459.5,763.0 444.1,714.6 428.8,646.7 413.5,522.1 398.1,745.4 382.8,751.8 367.5,744.7 352.1,717.0 336.8,792.9" fill="#933708" fill-opacity="0.2" stroke="none"/>
<polygon points="336.8,859.7 352.1,859.7 367.5,848.8 382.8,828.7 398.1,801.7 413.5,770.8 428.8,739.2 444.1,710.3 459.5,687.2 474.8,673.0 490.2,670.0 505.5,680.2 520.8,704.4 536.2,742.8 551.5,794.7 566.8,858.3 582.2,931.3 597.5,1010.4 612.8,1092.2 628.2,1172.5 643.5,1247.4 658.8,1312.9 674.2,1365.4 689.5,1402.0 704.8,1420.3 720.2,1418.9 735.5,1397.3 750.8,1356.0 766.2,1296.5 781.5,1221.1 796.9,1133.0 812.2,1035.9 827.5,934.1 842.9,831.7 858.2,733.3 873.5,642.8 888.9,563.9 904.2,499.5 919.5,451.6 934.9,421.6 950.2,409.7 965.5,415.9 980.9,437.9 996.2,473.4 1011.5,519.4 1026.9,572.5 1042.2,628.9 1057.5,685.1 1072.9,737.5 1088.2,783.2 1103.5,819.6 1118.9,845.1 1134.2,858.7 1149.6,860.4 1164.9,851.0 1180.2,832.0 1195.6,805.9 1210.9,775.3 1226.2,743.6 1241.6,714.1 1256.9,690.0 1272.2,674.4 1287.6,669.7 1302.9,677.9 1318.2,700.1 1333.6,736.5 1348.9,786.5 1364.2,848.6 1379.6,920.4 1394.9,998.9 1410.2,1080.5 1425.6,1161.2 1440.9,1237.1 1456.3,1304.2 1471.6,1358.8 1486.9,1397.8 1502.3,1418.9 1517.6,1420.3 1532.9,1401.6 1548.3,1363.1 1563.6,1306.1 1578.9,1232.8 1594.3,1146.3 1609.6,1050.2 1624.9,948.8 1640.3,846.2 1655.6,747.0 1670.9,655.1 1686.3,574.4 1701.6,507.7 1717.0,457.4 1732.3,424.8 1747.6,410.2 1763.0,414.0 1778.3,433.9 1793.6,467.6 1809.0,512.3 1824.3,564.6 1839.6,620.8 1855.0,677.2 1870.3,730.4 1885.6,777.2 1901.0,815.0 1916.3,842.2 1931.6,857.5 1947.0,860.9 1962.3,852.9 1977.6,835.2 1993.0,809.9 2008.3,779.9 2023.7,748.1 2039.0,718.1 2054.3,693.0 2069.7,676.0 2085.0,669.6 2100.3,675.9 2115.7,696.0 2131.0,730.4 2146.3,778.6 2161.7,839.1 2177.0,909.7 2192.3,987.4 2207.7,1068.8 2223.0,1149.9 2238.3,1226.7 2253.7,1295.3 2269.0,1351.9 2284.3,1393.3 2299.7,1417.0 2315.0,1421.4 2330.4,1405.5 2345.7,1369.8 2361.0,1315.3 2376.4,1244.1 2391.7,1159.3 2407.0,1064.4 2422.4,963.4 2437.7,860.8 2453.0,760.8 2468.4,667.7 2483.7,585.1 2499.0,516.3 2514.4,463.5 2529.7,428.4 2545.0,412.3 2560.4,411.2 2575.7,426.7 2591.0,456.8 2606.4,498.6 2621.7,549.1 2637.1,604.5 2652.4,661.2 2667.7,715.7 2683.1,764.6 2698.4,805.3 2713.7,835.6 2729.1,854.3 2744.4,861.1 2759.7,856.3 2775.1,841.2 2790.4,817.8 2805.7,788.8 2821.1,757.2 2836.4,726.3 2851.7,699.5 2867.1,679.9 2882.4,670.2 2897.7,672.7 2913.1,688.8 2928.4,719.2 2943.8,763.5 2959.1,820.6 2974.4,888.6 2989.8,964.6 3005.1,1045.4 3020.4,1127.0 3035.8,1205.5 3051.1,1276.8 3066.4,1337.2 3066.4,1353.9 3051.1,1293.5 3035.8,1222.2 3020.4,1143.7 3005.1,1062.1 2989.8,981.4 2974.4,905.3 2959.1,837.4 2943.8,780.2 2928.4,735.9 2913.1,705.5 2897.7,689.4 2882.4,686.9 2867.1,696.6 2851.7,716.2 2836.4,743.0 2821.1,773.9 2805.7,805.5 2790.4,834.5 2775.1,857.9 2759.7,873.0 2744.4,877.8 2729.1,871.1 2713.7,852.3 2698.4,822.0 2683.1,781.3 2667.7,732.4 2652.4,678.0 2637.1,621.2 2621.7,565.8 2606.4,515.4 2591.0,473.5 2575.7,443.4 2560.4,427.9 2545.0,429.0 2529.7,445.1 2514.4,480.2 2499.0,533.0 2483.7,601.8 2468.4,684.4 2453.0,777.5 2437.7,877.5 2422.4,980.1 2407.0,1081.1 2391.7,1176.0 2376.4,1260.8 2361.0,1332.0 2345.7,1386.5 2330.4,1422.3 2315.0,1438.1 2299.7,1433.8 2284.3,1410.0 2269.0,1368.6 2253.7,1312.0 2238.3,1243.5 2223.0,1166.6 2207.7,1085.5 2192.3,1004.1 2177.0,926.4 2161.7,855.8 2146.3,795.3 2131.0,747.2 2115.7,712.7 2100.3,692.6 2085.0,686.3 2069.7,692.7 2054.3,709.7 2039.0,734.8 2023.7,764.8 2008.3,796.6 1993.0,826.7 1977.6,851.9 1962.3,869.6 1947.0,877.6 1931.6,874.2 1916.3,858.9 1901.0,831.8 1885.6,793.9 1870.3,747.1 1855.0,693.9 1839.6,637.5 1824.3,581.3 1809.0,529.0 1793.6,484.4 1778.3,450.6 1763.0,430.7 1747.6,426.9 1732.3,441.5 1717.0,474.1 1701.6,524.4 1686.3,591.1 1670.9,671.8 1655.6,763.7 1640.3,862.9 1624.9,965.5 1609.6,1066.9 1594.3,1163.0 1578.9,1249.5 1563.6,1322.8 1548.3,1379.8 1532.9,1418.4 1517.6,1437.1 1502.3,1435.6 1486.9,1414.6 1471.6,1375.5 1456.3,1320.9 1440.9,1253.9 1425.6,1178.0 1410.2,1097.2 1394.9,1015.6 1379.6,937.1 1364.2,865.3 1348.9,803.2 1333.6,753.2 1318.2,716.8 1302.9,694.6 1287.6,686.4 1272.2,691.1 1256.9,706.7 1241.6,730.8 1226.2,760.4 1210.9,792.1 1195.6,822.6 1180.2,848.7 1164.9,867.7 1149.6,877.1 1134.2,875.4 1118.9,861.8 1103.5,836.3 1088.2,799.9 1072.9,754.2 1057.5,701.8 1042.2,645.6 1026.9,589.2 1011.5,536.1 996.2,490.2 980.9,454.7 965.5,432.6 950.2,426.4 934.9,438.4 919.5,468.3 904.2,516.2 888.9,580.6 873.5,659.6 858.2,750.0 842.9,848.5 827.5,950.8 812.2,1052.7 796.9,1149.7 781.5,1237.8 766.2,1313.2 750.8,1372.7 735.5,1414.0 720.2,1435.6 704.8,1437.0 689.5,1418.7 674.2,1382.1 658.8,1329.6 643.5,1264.1 628.2,1189.2 612.8,1108.9 597.5,1027.2 582.2,948.0 566.8,875.0 551.5,811.4 536.2,759.6 520.8,721.1 505.5,696.9 490.2,686.8 474.8,689.7 459.5,703.9 444.1,727.0 428.8,755.9 413.5,787.5 398.1,818.4 382.8,845.4 367.5,865.5 352.1,876.4 336.8,876.4" fill="#65e5f3" fill-opacity="0.2" stroke="none"/>
<polyline points="336.8,862.9 352.1,862.9 367.5,862.9 382.8,862.9 398.1,862.9 413.5,862.9 428.8,862.9 444.1,862.9 459.5,862.9 474.8,862.9 490.2,862.9 505.5,862.9 520.8,862.9 536.2,862.9 551.5,862.9 566.8,862.9 582.2,862.9 597.5,862.9 612.8,862.9 628.2,862.9 643.5,862.9 658.8,862.9 674.2,862.9 689.5,862.9 704.8,862.9 720.2,862.9 735.5,862.9 750.8,862.9 766.2,862.9 781.5,862.9 796.9,862.9 812.2,862.9 827.5,862.9 842.9,862.9 858.2,862.9 873.5,862.9 888.9,862.9 904.2,862.9 919.5,862.9 934.9,862.9 950.2,862.9 965.5,862.9 980.9,862.9 996.2,862.9 1011.5,862.9 1026.9,862.9 1042.2,862.9 1057.5,862.9 1072.9,862.9 1088.2,862.9 1103.5,862.9 1118.9,862.9 1134.2,862.9 1149.6,862.9 1164.9,862.9 1180.2,862.9 1195.6,862.9 1210.9,862.9 1226.2,1262.4 1241.6,862.9 1256.9,862.9 1272.2,862.9 1287.6,862.9 1302.9,862.9 1318.2,862.9 1333.6,862.9 1348.9,862.9 1364.2,862.9 1379.6,862.9 1394.9,862.9 1410.2,862.9 1425.6,862.9 1440.9,862.9 1456.3,862.9 1471.6,862.9 1486.9,862.9 1502.3,862.9 1517.6,862.9 1532.9,862.9 1548.3,862.9 1563.6,862.9 1578.9,862.9 1594.3,862.9 1609.6,862.9 1624.9,862.9 1640.3,862.9 1655.6,862.9 1670.9,862.9 1686.3,862.9 1701.6,862.9 1717.0,862.9 1732.3,862.9 1747.6,862.9 1763.0,862.9 1778.3,862.9 1793.6,862.9 1809.0,862.9 1824.3,862.9 1839.6,862.9 1855.0,862.9 1870.3,862.9 1885.6,862.9 1901.0,862.9 1916.3,862.9 1931.6,862.9 1947.0,862.9 1962.3,862.9 1977.6,862.9 1993.0,862.9 2008.3,862.9 2023.7,862.9 2039.0,862.9 2054.3,862.9 2069.7,862.9 2085.0,862.9 2100.3,862.9 2115.7,862.9 2131.0,862.9 2146.3,862.9 2161.7,862.9 2177.0,862.9 2192.3,862.9 2207.7,862.9 2223.0,862.9 2238.3,862.9 2253.7,862.9 2269.0,862.9 2284.3,862.9 2299.7,862.9 2315.0,862.9 2330.4,862.9 2345.7,862.9 2361.0,862.9 2376.4,862.9 2391.7,862.9 2407.0,862.9 2422.4,862.9 2437.7,862.9 2453.0,862.9 2468.4,862.9 2483.7,862.9 2499.0,862.9 2514.4,862.9 2529.7,862.9 2545.0,862.9 2560.4,862.9 2575.7,862.9 2591.0,862.9 2606.4,862.9 2621.7,862.9 2637.1,862.9 2652.4,862.9 2667.7,862.9 2683.1,862.9 2698.4,862.9 2713.7,862.9 2729.1,862.9 2744.4,862.9 2759.7,862.9 2775.1,862.9 2790.4,862.9 2805.7,862.9 2821.1,862.9 2836.4,862.9 2851.7,862.9 2867.1,862.9 2882.4,862.9 2897.7,862.9 2913.1,862.9 2928.4,862.9 2943.8,862.9 2959.1,862.9 2974.4,862.9 2989.8,862.9 3005.1,862.9 3020.4,862.9 3035.8,862.9 3051.1,862.9 3066.4,862.9" fill="none" stroke="#2a2eec" stroke-opacity="0.9" stroke-width="4.17" stroke-linejoin="round" stroke-linecap="round"/>
<polyline points="336.8,783.0 352.1,704.5 367.5,732.2 382.8,739.6 398.1,732.9 413.5,509.6 428.8,634.2 444.1,702.1 459.5,751.4 474.8,695.9 490.2,716.9 505.5,730.4 520.8,748.9 536.2,567.6 551.5,556.5 566.8,637.9 582.2,684.8 597.5,545.4 612.8,474.8 628.2,588.3 643.5,694.4 658.8,771.4 674.2,754.8 689.5,588.3 704.8,562.4 720.2,620.4 735.5,698.1 750.8,590.8 766.2,604.3 781.5,677.1 796.9,574.7 812.2,566.6 827.5,667.2 842.9,709.2 858.2,615.4 873.5,714.1 888.9,717.8 904.2,606.8 919.5,663.4 934.9,723.8 950.2,709.0 965.5,736.1 980.9,743.5 996.2,600.4 1011.5,575.8 1026.9,663.4 1042.2,750.9 1057.5,717.6 1072.9,742.3 1088.2,757.1 1103.5,770.7 1118.9,764.5 1134.2,789.2 1149.6,813.9 1164.9,829.9 1180.2,827.4 1195.6,786.7 1210.9,788.2 1226.2,800.6 1241.6,657.5 1256.9,715.4 1272.2,759.8 1287.6,742.6 1302.9,767.2 1318.2,667.3 1333.6,708.0 1348.9,750.0 1364.2,790.7 1379.6,789.5 1394.9,791.9 1410.2,800.6 1425.6,812.9 1440.9,825.2 1456.3,777.1 1471.6,785.8 1486.9,772.2 1502.3,768.5 1517.6,784.5 1532.9,696.9 1548.3,740.1 1563.6,783.3 1578.9,790.7 1594.3,800.6 1609.6,809.2 1624.9,820.3 1640.3,811.7 1655.6,820.3 1670.9,811.7 1686.3,805.5 1701.6,805.5 1717.0,817.8 1732.3,810.4 1747.6,822.8 1763.0,819.1 1778.3,835.1 1793.6,841.3 1809.0,835.1 1824.3,831.4 1839.6,826.5 1855.0,735.2 1870.3,729.0 1885.6,764.8 1901.0,791.9 1916.3,812.9 1931.6,743.8 1947.0,773.4 1962.3,805.5 1977.6,830.2 1993.0,830.2 2008.3,768.5 2023.7,784.5 2039.0,809.2 2054.3,831.4 2069.7,841.3 2085.0,836.3 2100.3,841.3 2115.7,825.2 2131.0,810.4 2146.3,818.6 2161.7,826.5 2177.0,821.5 2192.3,809.2 2207.7,748.7 2223.0,778.4 2238.3,806.7 2253.7,825.2 2269.0,827.7 2284.3,828.4 2299.7,832.6 2315.0,841.3 2330.4,836.3 2345.7,740.1 2361.0,777.1 2376.4,754.9 2391.7,780.8 2407.0,801.8 2422.4,809.2 2437.7,822.8 2453.0,820.3 2468.4,828.9 2483.7,817.8 2499.0,830.2 2514.4,824.0 2529.7,836.3 2545.0,835.1 2560.4,840.0 2575.7,836.3 2591.0,752.4 2606.4,763.5 2621.7,785.8 2637.1,800.6 2652.4,805.5 2667.7,819.1 2683.1,805.5 2698.4,719.1 2713.7,750.0 2729.1,756.1 2744.4,689.5 2759.7,680.9 2775.1,727.3 2790.4,773.4 2805.7,787.0 2821.1,799.3 2836.4,695.7 2851.7,699.4 2867.1,731.5 2882.4,790.7 2897.7,799.3 2913.1,811.7 2928.4,792.8 2943.8,795.9 2959.1,788.5 2974.4,793.3 2989.8,784.8 3005.1,669.0 3020.4,738.4 3035.8,736.9 3051.1,746.2 3066.4,772.1" fill="none" stroke="#fa7c17" stroke-opacity="0.9" stroke-width="4.17" stroke-linejoin="round" stroke-linecap="round"/>
<polyline points="336.8,868.0 352.1,868.0 367.5,857.1 382.8,837.0 398.1,810.1 413.5,779.2 428.8,747.6 444.1,718.6 459.5,695.5 474.8,681.3 490.2,678.4 505.5,688.5 520.8,712.8 536.2,751.2 551.5,803.0 566.8,866.7 582.2,939.6 597.5,1018.8 612.8,1100.5 628.2,1180.8 643.5,1255.7 658.8,1321.2 674.2,1373.8 689.5,1410.4 704.8,1428.7 720.2,1427.3 735.5,1405.7 750.8,1364.4 766.2,1304.9 781.5,1229.5 796.9,1141.4 812.2,1044.3 827.5,942.4 842.9,840.1 858.2,741.7 873.5,651.2 888.9,572.3 904.2,507.8 919.5,460.0 934.9,430.0 950.2,418.1 965.5,424.3 980.9,446.3 996.2,481.8 1011.5,527.8 1026.9,580.8 1042.2,637.2 1057.5,693.4 1072.9,745.9 1088.2,791.5 1103.5,828.0 1118.9,853.5 1134.2,867.1 1149.6,868.7 1164.9,859.3 1180.2,840.4 1195.6,814.2 1210.9,783.7 1226.2,752.0 1241.6,722.5 1256.9,698.4 1272.2,682.7 1287.6,678.0 1302.9,686.2 1318.2,708.4 1333.6,744.9 1348.9,794.9 1364.2,857.0 1379.6,928.8 1394.9,1007.2 1410.2,1088.8 1425.6,1169.6 1440.9,1245.5 1456.3,1312.6 1471.6,1367.2 1486.9,1406.2 1502.3,1427.2 1517.6,1428.7 1532.9,1410.0 1548.3,1371.4 1563.6,1314.4 1578.9,1241.1 1594.3,1154.6 1609.6,1058.6 1624.9,957.1 1640.3,854.6 1655.6,755.3 1670.9,663.5 1686.3,582.7 1701.6,516.0 1717.0,465.7 1732.3,433.2 1747.6,418.6 1763.0,422.4 1778.3,442.3 1793.6,476.0 1809.0,520.7 1824.3,572.9 1839.6,629.1 1855.0,685.5 1870.3,738.7 1885.6,785.5 1901.0,823.4 1916.3,850.5 1931.6,865.9 1947.0,869.2 1962.3,861.3 1977.6,843.6 1993.0,818.3 2008.3,788.2 2023.7,756.5 2039.0,726.4 2054.3,701.4 2069.7,684.3 2085.0,678.0 2100.3,684.2 2115.7,704.4 2131.0,738.8 2146.3,786.9 2161.7,847.4 2177.0,918.0 2192.3,995.7 2207.7,1077.1 2223.0,1158.3 2238.3,1235.1 2253.7,1303.7 2269.0,1360.3 2284.3,1401.7 2299.7,1425.4 2315.0,1429.7 2330.4,1413.9 2345.7,1378.1 2361.0,1323.6 2376.4,1252.5 2391.7,1167.6 2407.0,1072.7 2422.4,971.8 2437.7,869.1 2453.0,769.2 2468.4,676.0 2483.7,593.4 2499.0,524.6 2514.4,471.9 2529.7,436.7 2545.0,420.7 2560.4,419.5 2575.7,435.0 2591.0,465.1 2606.4,507.0 2621.7,557.4 2637.1,612.9 2652.4,669.6 2667.7,724.0 2683.1,773.0 2698.4,813.6 2713.7,844.0 2729.1,862.7 2744.4,869.4 2759.7,864.6 2775.1,849.5 2790.4,826.1 2805.7,797.1 2821.1,765.5 2836.4,734.6 2851.7,707.8 2867.1,688.2 2882.4,678.6 2897.7,681.1 2913.1,697.2 2928.4,727.5 2943.8,771.8 2959.1,829.0 2974.4,897.0 2989.8,973.0 3005.1,1053.7 3020.4,1135.3 3035.8,1213.8 3051.1,1285.2 3066.4,1345.5" fill="none" stroke="#328c06" stroke-opacity="0.9" stroke-width="4.17" stroke-linejoin="round" stroke-linecap="round"/>
<polyline points="336.8,862.9 352.1,862.9 367.5,862.9 382.8,862.9 398.1,862.9 413.5,862.9 428.8,862.9 444.1,862.9 459.5,862.9 474.8,862.9 490.2,862.9 505.5,862.9 520.8,862.9 536.2,862.9 551.5,862.9 566.8,862.9 582.2,862.9 597.5,862.9 612.8,862.9 628.2,862.9 643.5,862.9 658.8,862.9 674.2,862.9 689.5,862.9 704.8,862.9 720.2,862.9 735.5,862.9 750.8,862.9 766.2,862.9 781.5,862.9 796.9,862.9 812.2,862.9 827.5,862.9 842.9,862.9 858.2,862.9 873.5,862.9 888.9,862.9 904.2,862.9 919.5,862.9 934.9,862.9 950.2,862.9 965.5,862.9 980.9,862.9 996.2,862.9 1011.5,862.9 1026.9,862.9 1042.2,862.9 1057.5,862.9 1072.9,862.9 1088.2,862.9 1103.5,862.9 1118.9,862.9 1134.2,862.9 1149.6,862.9 1164.9,862.9 1180.2,862.9 1195.6,862.9 1210.9,862.9 1226.2,862.9 1241.6,862.9 1256.9,862.9 1272.2,862.9 1287.6,862.9 1302.9,862.9 1318.2,862.9 1333.6,862.9 1348.9,862.9 1364.2,862.9 1379.6,862.9 1394.9,862.9 1410.2,862.9 1425.6,862.9 1440.9,862.9 1456.3,862.9 1471.6,862.9 1486.9,862.9 1502.3,862.9 1517.6,862.9 1532.9,862.9 1548.3,862.9 1563.6,862.9 1578.9,862.9 1594.3,862.9 1609.6,862.9 1624.9,862.9 1640.3,862.9 1655.6,862.9 1670.9,862.9 1686.3,862.9 1701.6,862.9 1717.0,862.9 1732.3,862.9 1747.6,862.9 1763.0,862.9 1778.3,862.9 1793.6,862.9 1809.0,862.9 1824.3,862.9 1839.6,862.9 1855.0,862.9 1870.3,862.9 1885.6,862.9 1901.0,862.9 1916.3,862.9 1931.6,862.9 1947.0,862.9 1962.3,862.9 1977.6,862.9 1993.0,862.9 2008.3,862.9 2023.7,862.9 2039.0,862.9 2054.3,862.9 2069.7,862.9 2085.0,862.9 2100.3,862.9 2115.7,862.9 2131.0,862.9 2146.3,862.9 2161.7,862.9 2177.0,862.9 2192.3,862.9 2207.7,862.9 2223.0,862.9 2238.3,862.9 2253.7,862.9 2269.0,862.9 2284.3,862.9 2299.7,175.9 2315.0,862.9 2330.4,862.9 2345.7,862.9 2361.0,862.9 2376.4,862.9 2391.7,862.9 2407.0,862.9 2422.4,862.9 2437.7,862.9 2453.0,862.9 2468.4,862.9 2483.7,862.9 2499.0,862.9 2514.4,862.9 2529.7,862.9 2545.0,862.9 2560.4,862.9 2575.7,862.9 2591.0,862.9 2606.4,862.9 2621.7,862.9 2637.1,862.9 2652.4,862.9 2667.7,862.9 2683.1,862.9 2698.4,862.9 2713.7,862.9 2729.1,862.9 2744.4,862.9 2759.7,862.9 2775.1,862.9 2790.4,862.9 2805.7,862.9 2821.1,862.9 2836.4,862.9 2851.7,862.9 2867.1,862.9 2882.4,862.9 2897.7,862.9 2913.1,862.9 2928.4,862.9 2943.8,862.9 2959.1,862.9 2974.4,862.9 2989.8,862.9 3005.1,862.9 3020.4,862.9 3035.8,862.9 3051.1,862.9 3066.4,862.9" fill="none" stroke="#c10c90" stroke-opacity="0.9" stroke-width="4.17" stroke-linejoin="round" stroke-linecap="round"/>
<polyline points="336.8,783.0 352.1,704.5 367.5,732.2 382.8,739.6 398.1,732.9 413.5,509.6 428.8,634.2 444.1,702.1 459.5,751.4 474.8,695.9 490.2,716.9 505.5,730.4 520.8,748.9 536.2,567.6 551.5,556.5 566.8,637.9 582.2,684.8 597.5,545.4 612.8,474.8 628.2,588.3 643.5,694.4 658.8,771.4 674.2,754.8 689.5,588.3 704.8,562.4 720.2,620.4 735.5,698.1 750.8,590.8 766.2,604.3 781.5,677.1 796.9,574.7 812.2,566.6 827.5,667.2 842.9,709.2 858.2,615.4 873.5,714.1 888.9,717.8 904.2,606.8 919.5,663.4 934.9,723.8 950.2,709.0 965.5,736.1 980.9,743.5 996.2,600.4 1011.5,575.8 1026.9,663.4 1042.2,750.9 1057.5,717.6 1072.9,742.3 1088.2,757.1 1103.5,770.7 1118.9,764.5 1134.2,789.2 1149.6,813.9 1164.9,829.9 1180.2,827.4 1195.6,786.7 1210.9,788.2 1226.2,800.6 1241.6,657.5 1256.9,715.4 1272.2,759.8 1287.6,742.6 1302.9,767.2 1318.2,667.3 1333.6,708.0 1348.9,750.0 1364.2,790.7 1379.6,789.5 1394.9,791.9 1410.2,800.6 1425.6,812.9 1440.9,825.2 1456.3,777.1 1471.6,785.8 1486.9,772.2 1502.3,768.5 1517.6,784.5 1532.9,696.9 1548.3,740.1 1563.6,783.3 1578.9,790.7 1594.3,800.6 1609.6,809.2 1624.9,820.3 1640.3,811.7 1655.6,820.3 1670.9,811.7 1686.3,805.5 1701.6,805.5 1717.0,817.8 1732.3,810.4 1747.6,822.8 1763.0,819.1 1778.3,835.1 1793.6,841.3 1809.0,835.1 1824.3,831.4 1839.6,826.5 1855.0,735.2 1870.3,729.0 1885.6,764.8 1901.0,791.9 1916.3,812.9 1931.6,743.8 1947.0,773.4 1962.3,805.5 1977.6,830.2 1993.0,830.2 2008.3,768.5 2023.7,784.5 2039.0,809.2 2054.3,831.4 2069.7,841.3 2085.0,836.3 2100.3,841.3 2115.7,825.2 2131.0,810.4 2146.3,818.6 2161.7,826.5 2177.0,821.5 2192.3,809.2 2207.7,748.7 2223.0,778.4 2238.3,806.7 2253.7,825.2 2269.0,827.7 2284.3,828.4 2299.7,832.6 2315.0,841.3 2330.4,836.3 2345.7,740.1 2361.0,777.1 2376.4,754.9 2391.7,780.8 2407.0,801.8 2422.4,809.2 2437.7,822.8 2453.0,820.3 2468.4,828.9 2483.7,817.8 2499.0,830.2 2514.4,824.0 2529.7,836.3 2545.0,835.1 2560.4,840.0 2575.7,836.3 2591.0,752.4 2606.4,763.5 2621.7,785.8 2637.1,800.6 2652.4,805.5 2667.7,819.1 2683.1,805.5 2698.4,719.1 2713.7,750.0 2729.1,756.1 2744.4,689.5 2759.7,680.9 2775.1,727.3 2790.4,773.4 2805.7,787.0 2821.1,799.3 2836.4,695.7 2851.7,699.4 2867.1,731.5 2882.4,790.7 2897.7,799.3 2913.1,811.7 2928.4,792.8 2943.8,795.9 2959.1,788.5 2974.4,793.3 2989.8,784.8 3005.1,669.0 3020.4,738.4 3035.8,736.9 3051.1,746.2 3066.4,772.1" fill="none" stroke="#933708" stroke-opacity="0.9" stroke-width="4.17" stroke-linejoin="round" stroke-linecap="round"/>
<polyline points="336.8,868.0 352.1,868.0 367.5,857.1 382.8,837.0 398.1,810.1 413.5,779.2 428.8,747.6 444.1,718.6 459.5,695.5 474.8,681.3 490.2,678.4 505.5,688.5 520.8,712.8 536.2,751.2 551.5,803.0 566.8,866.7 582.2,939.6 597.5,1018.8 612.8,1100.5 628.2,1180.8 643.5,1255.7 658.8,1321.2 674.2,1373.8 689.5,1410.4 704.8,1428.7 720.2,1427.3 735.5,1405.7 750.8,1364.4 766.2,1304.9 781.5,1229.5 796.9,1141.4 812.2,1044.3 827.5,942.4 842.9,840.1 858.2,741.7 873.5,651.2 888.9,572.3 904.2,507.8 919.5,460.0 934.9,430.0 950.2,418.1 965.5,424.3 980.9,446.3 996.2,481.8 1011.5,527.8 1026.9,580.8 1042.2,637.2 1057.5,693.4 1072.9,745.9 1088.2,791.5 1103.5,828.0 1118.9,853.5 1134.2,867.1 1149.6,868.7 1164.9,859.3 1180.2,840.4 1195.6,814.2 1210.9,783.7 1226.2,752.0 1241.6,722.5 1256.9,698.4 1272.2,682.7 1287.6,678.0 1302.9,686.2 1318.2,708.4 1333.6,744.9 1348.9,794.9 1364.2,857.0 1379.6,928.8 1394.9,1007.2 1410.2,1088.8 1425.6,1169.6 1440.9,1245.5 1456.3,1312.6 1471.6,1367.2 1486.9,1406.2 1502.3,1427.2 1517.6,1428.7 1532.9,1410.0 1548.3,1371.4 1563.6,1314.4 1578.9,1241.1 1594.3,1154.6 1609.6,1058.6 1624.9,957.1 1640.3,854.6 1655.6,755.3 1670.9,663.5 1686.3,582.7 1701.6,516.0 1717.0,465.7 1732.3,433.2 1747.6,418.6 1763.0,422.4 1778.3,442.3 1793.6,476.0 1809.0,520.7 1824.3,572.9 1839.6,629.1 1855.0,685.5 1870.3,738.7 1885.6,785.5 1901.0,823.4 1916.3,850.5 1931.6,865.9 1947.0,869.2 1962.3,861.3 1977.6,843.6 1993.0,818.3 2008.3,788.2 2023.7,756.5 2039.0,726.4 2054.3,701.4 2069.7,684.3 2085.0,678.0 2100.3,684.2 2115.7,704.4 2131.0,738.8 2146.3,786.9 2161.7,847.4 2177.0,918.0 2192.3,995.7 2207.7,1077.1 2223.0,1158.3 2238.3,1235.1 2253.7,1303.7 2269.0,1360.3 2284.3,1401.7 2299.7,1425.4 2315.0,1429.7 2330.4,1413.9 2345.7,1378.1 2361.0,1323.6 2376.4,1252.5 2391.7,1167.6 2407.0,1072.7 2422.4,971.8 2437.7,869.1 2453.0,769.2 2468.4,676.0 2483.7,593.4 2499.0,524.6 2514.4,471.9 2529.7,436.7 2545.0,420.7 2560.4,419.5 2575.7,435.0 2591.0,465.1 2606.4,507.0 2621.7,557.4 2637.1,612.9 2652.4,669.6 2667.7,724.0 2683.1,773.0 2698.4,813.6 2713.7,844.0 2729.1,862.7 2744.4,869.4 2759.7,864.6 2775.1,849.5 2790.4,826.1 2805.7,797.1 2821.1,765.5 2836.4,734.6 2851.7,707.8 2867.1,688.2 2882.4,678.6 2897.7,681.1 2913.1,697.2 2928.4,727.5 2943.8,771.8 2959.1,829.0 2974.4,897.0 2989.8,973.0 3005.1,1053.7 3020.4,1135.3 3035.8,1213.8 3051.1,1285.2 3066.4,1345.5" fill="none" stroke="#65e5f3" stroke-opacity="0.9" stroke-width="4.17" stroke-linejoin="round" stroke-linecap="round"/>
<text transform="translate(1415.16,54.70) scale(1.0121,1.0000)" font-size="46.92" x="0.00 28.57 41.72 82.95 109.37 121.75 151.54 179.96 196.84 208.60 235.00 257.81 269.79 302.61 329.94 358.70 375.91 392.79 405.16 432.55 461.49 477.59 489.21 516.54 543.33" y="0">Time Series Contributions</text>
<text transform="translate(104.64,280.25) scale(0.9723,1.0450)" font-size="40.90" x="0.00 24.62 37.80 62.98" y="0">0.75</text>
<text transform="translate(103.75,479.25) scale(0.9791,1.0450)" font-size="40.90" x="0.00 24.49 37.46 62.70" y="0">0.50</text>
<text transform="translate(104.69,678.25) scale(0.9680,1.0450)" font-size="40.90" x="0.00 24.71 37.52 63.26" y="0">0.25</text>
<text transform="translate(103.55,877.25) scale(0.9965,1.0450)" font-size="40.90" x="0.00 24.16 36.96 61.60" y="0">0.00</text>
<text transform="translate(74.96,1076.25) scale(1.0285,1.0450)" font-size="40.90" x="0.00 28.23 51.82 63.54 87.77" y="0">−0.25</text>
<text transform="translate(74.06,1275.25) scale(1.0363,1.0450)" font-size="40.90" x="0.00 28.02 51.48 63.42 87.26" y="0">−0.50</text>
<text transform="translate(74.92,1474.25) scale(1.0318,1.0450)" font-size="40.90" x="0.00 28.14 51.67 63.76 87.49" y="0">−0.75</text>
<text transform="translate(453.94,1544.20) scale(0.9832,1.0500)" font-size="40.90" x="0.00 25.49 50.27 75.45 99.59 114.59 139.49" y="0">2018-07</text>
<text transform="translate(857.03,1544.20) scale(0.9833,1.0500)" font-size="40.90" x="0.00 25.49 50.26 75.32 99.58 114.58 139.35" y="0">2019-01</text>
<text transform="translate(1253.51,1544.20) scale(0.9865,1.0500)" font-size="40.90" x="0.00 25.41 50.10 75.07 99.27 114.21 139.02" y="0">2019-07</text>
<text transform="translate(1656.68,1544.20) scale(0.9794,1.0500)" font-size="40.90" x="0.00 25.59 50.15 75.74 99.96 115.04 139.91" y="0">2020-01</text>
<text transform="translate(2055.36,1544.20) scale(0.9826,1.0500)" font-size="40.90" x="0.00 25.51 49.98 75.49 99.65 114.66 139.58" y="0">2020-07</text>
<text transform="translate(2458.56,1544.20) scale(0.9727,1.0500)" font-size="40.90" x="0.00 25.77 50.49 76.06 100.62 115.83 140.88" y="0">2021-01</text>
<text transform="translate(2855.04,1544.20) scale(0.9760,1.0500)" font-size="40.90" x="0.00 25.68 50.32 75.80 100.30 115.44 140.52" y="0">2021-07</text>
<text transform="translate(1652.68,1595.00) scale(0.9913,1.0000)" font-size="43.55" x="0.00 30.65 59.00 74.01" y="0">Date</text>
<text transform="translate(50.00,787.00) rotate(-90) scale(0.9923,1)" font-size="43.55" x="-159.60 -132.70 -107.74 -84.39 -69.40 -42.57 -26.67 -15.53 11.30 26.27 39.07 66.79 94.07 105.58 131.62" y="0">Posterior Value</text>
<line x1="235" y1="121.80" x2="313" y2="121.80" stroke="#2a2eec" stroke-opacity="0.9" stroke-width="4.17" stroke-linecap="round"/>
<text transform="translate(343.35,136.60) scale(1.0261,1.0000)" font-size="40.90" x="0.00 21.26 44.86 69.75 84.59 98.66 122.29 130.23 150.67 171.93 195.53 220.42 235.26 249.87 260.48 284.14 309.18 323.10 333.07 356.67 379.93 391.46 406.38 427.64 451.24 476.13 490.97 505.04 528.67 542.36 570.44 594.31 616.04 639.64 664.52 675.87 697.02 722.24" y="0">control_contribution (control=event_1)</text>
<line x1="235" y1="180.25" x2="313" y2="180.25" stroke="#fa7c17" stroke-opacity="0.9" stroke-width="4.17" stroke-linecap="round"/>
<text transform="translate(343.49,195.05) scale(1.0149,1.0000)" font-size="40.90" x="0.00 21.98 44.35 69.74 93.99 117.89 141.73 149.86 170.55 192.10 216.00 241.14 256.20 270.95 281.79 305.75 331.05 345.13 355.31 379.22 402.63 414.41 429.56 451.11 475.01 500.15 515.21 529.51 553.35 567.31 595.75 619.91 641.93 665.84 690.97 702.53 723.97 749.43" y="0">channel_contribution (control=event_1)</text>
<line x1="235" y1="238.70" x2="313" y2="238.70" stroke="#328c06" stroke-opacity="0.9" stroke-width="4.17" stroke-linecap="round"/>
<text transform="translate(345.67,253.50) scale(1.0015,1.0000)" font-size="40.90" x="0.00 22.31 44.55 71.15 86.01 97.16 117.25 138.36 159.02 181.26 206.10 226.62 250.82 273.41 298.95 309.73 321.44 336.04 356.13 377.06 398.88 423.07 448.44 463.71 478.60 489.66 513.90 539.44 553.68 564.06 588.26 611.82 623.84 639.20 661.02 685.21 710.58 725.85 740.37 764.42 778.63 807.41 831.85 854.16 878.35 903.72 915.48 937.19 962.88" y="0">yearly_seasonality_contribution (control=event_1)</text>
<line x1="235" y1="297.15" x2="313" y2="297.15" stroke="#c10c90" stroke-opacity="0.9" stroke-width="4.17" stroke-linecap="round"/>
<text transform="translate(343.35,311.95) scale(1.0263,1.0000)" font-size="40.90" x="0.00 21.26 44.85 69.74 84.58 98.65 122.27 130.21 150.65 171.91 195.50 220.38 235.23 249.83 260.44 284.09 309.14 323.05 333.01 356.61 379.87 391.40 406.31 427.57 451.17 476.05 490.89 504.96 528.58 542.27 570.35 594.22 615.94 639.53 664.42 675.76 696.63 722.12" y="0">control_contribution (control=event_2)</text>
<line x1="235" y1="355.60" x2="313" y2="355.60" stroke="#933708" stroke-opacity="0.9" stroke-width="4.17" stroke-linecap="round"/>
<text transform="translate(343.49,370.40) scale(1.0151,1.0000)" font-size="40.90" x="0.00 21.98 44.34 69.73 93.98 117.87 141.70 149.83 170.52 192.06 215.97 241.10 256.16 270.90 281.74 305.70 330.99 345.07 355.25 379.15 402.56 414.34 429.48 451.02 474.92 500.06 515.11 529.41 553.25 567.20 595.64 619.80 641.82 665.72 690.85 702.40 723.55 749.29" y="0">channel_contribution (control=event_2)</text>
<line x1="235" y1="414.05" x2="313" y2="414.05" stroke="#65e5f3" stroke-opacity="0.9" stroke-width="4.17" stroke-linecap="round"/>
<text transform="translate(345.67,428.85) scale(1.0016,1.0000)" font-size="40.90" x="0.00 22.31 44.54 71.14 86.00 97.15 117.23 138.34 158.99 181.23 206.07 226.59 250.78 273.36 298.90 309.68 321.39 335.99 356.07 377.00 398.82 423.01 448.37 463.64 478.53 489.59 513.82 539.36 553.59 563.97 588.17 611.73 623.74 639.10 660.91 685.11 710.47 725.74 740.25 764.30 778.51 807.28 831.72 854.02 878.21 903.58 915.34 936.74 962.73" y="0">yearly_seasonality_contribution (control=event_2)</text>
</svg></body></html>
